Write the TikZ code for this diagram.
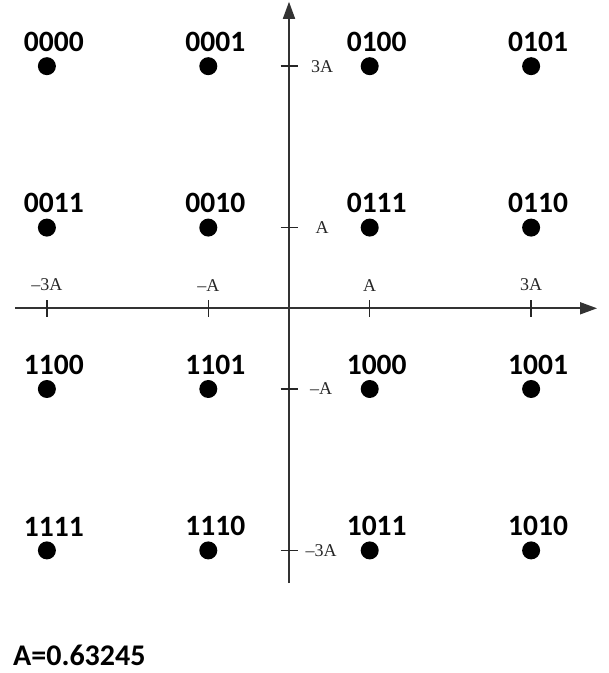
\documentclass[tikz,border=0pt]{standalone}
\usepackage{fontspec}
\newfontfamily\codefont{Carlito}
\newfontfamily\tickfont{Liberation Serif}
\usetikzlibrary{arrows.meta,positioning}

\begin{document}
\begin{tikzpicture}[
  x=80.7pt, y=80.7pt, label distance=5pt,
  dot/.style={circle, fill=black, inner sep=0pt, minimum size=18pt},
  code/.style={font=\codefont\bfseries\fontsize{29.5}{30}\selectfont,
               inner sep=0pt, xshift=7pt},
  note/.style={font=\codefont\bfseries\fontsize{30}{31}\selectfont, inner sep=0pt},
  tlbl/.style={font=\tickfont\fontsize{18}{19}\selectfont, text=black!85, inner sep=0pt},
  axis/.style={-{Triangle[length=17pt,width=12pt]}, line width=1.6pt, black!80},
  tick/.style={line width=1.4pt, black!85}]

  \useasboundingbox (-3.581,-4.519) rectangle (3.953,3.820);

  % axes
  \coordinate (xl) at (-3.395,0);
  \coordinate (xr) at (3.817,0);
  \coordinate (yb) at (0,-3.404);
  \coordinate (yt) at (0,3.798);
  \draw[axis] (xl) -- (xr);
  \draw[axis] (yb) -- (yt);

  % ticks on the horizontal axis
  \coordinate (xm3) at (-3,0);
  \coordinate (xm1) at (-1,0);
  \coordinate (xp1) at (1,0);
  \coordinate (xp3) at (3,0);
  \draw[tick] ([yshift=-8.5pt]xm3) -- ([yshift=8.5pt]xm3);
  \draw[tick] ([yshift=-8.5pt]xm1) -- ([yshift=8.5pt]xm1);
  \draw[tick] ([yshift=-8.5pt]xp1) -- ([yshift=8.5pt]xp1);
  \draw[tick] ([yshift=-8.5pt]xp3) -- ([yshift=8.5pt]xp3);
  \node[tlbl, above=17pt of xm3] (lxm3) {–3A};
  \node[tlbl, above=17pt of xm1] (lxm1) {–A};
  \node[tlbl, above=17pt of xp1] (lxp1) {A};
  \node[tlbl, above=17pt of xp3] (lxp3) {3A};

  % ticks on the vertical axis
  \coordinate (yp3) at (0,3);
  \coordinate (yp1) at (0,1);
  \coordinate (ym1) at (0,-1);
  \coordinate (ym3) at (0,-3);
  \draw[tick] ([xshift=-8.5pt]yp3) -- ([xshift=8.5pt]yp3);
  \draw[tick] ([xshift=-8.5pt]yp1) -- ([xshift=8.5pt]yp1);
  \draw[tick] ([xshift=-8.5pt]ym1) -- ([xshift=8.5pt]ym1);
  \draw[tick] ([xshift=-8.5pt]ym3) -- ([xshift=8.5pt]ym3);
  \node[tlbl] (lyp3) at ([xshift=33pt]yp3) {3A};
  \node[tlbl] (lyp1) at ([xshift=33pt]yp1) {A};
  \node[tlbl] (lym1) at ([xshift=32pt]ym1) {–A};
  \node[tlbl] (lym3) at ([xshift=32pt]ym3) {–3A};

  % constellation points
  \node[dot, label={[code]above:0000}] (p0000) at (-3,3) {};
  \node[dot, label={[code]above:0001}] (p0001) at (-1,3) {};
  \node[dot, label={[code]above:0100}] (p0100) at (1,3) {};
  \node[dot, label={[code]above:0101}] (p0101) at (3,3) {};
  \node[dot, label={[code]above:0011}] (p0011) at (-3,1) {};
  \node[dot, label={[code]above:0010}] (p0010) at (-1,1) {};
  \node[dot, label={[code]above:0111}] (p0111) at (1,1) {};
  \node[dot, label={[code]above:0110}] (p0110) at (3,1) {};
  \node[dot, label={[code]above:1100}] (p1100) at (-3,-1) {};
  \node[dot, label={[code]above:1101}] (p1101) at (-1,-1) {};
  \node[dot, label={[code]above:1000}] (p1000) at (1,-1) {};
  \node[dot, label={[code]above:1001}] (p1001) at (3,-1) {};
  \node[dot, label={[code]above:1111}] (p1111) at (-3,-3) {};
  \node[dot, label={[code]above:1110}] (p1110) at (-1,-3) {};
  \node[dot, label={[code]above:1011}] (p1011) at (1,-3) {};
  \node[dot, label={[code]above:1010}] (p1010) at (3,-3) {};

  \node[note, anchor=west] (aval) at (-3.42,-4.296) {A=0.63245};
\end{tikzpicture}
\end{document}
